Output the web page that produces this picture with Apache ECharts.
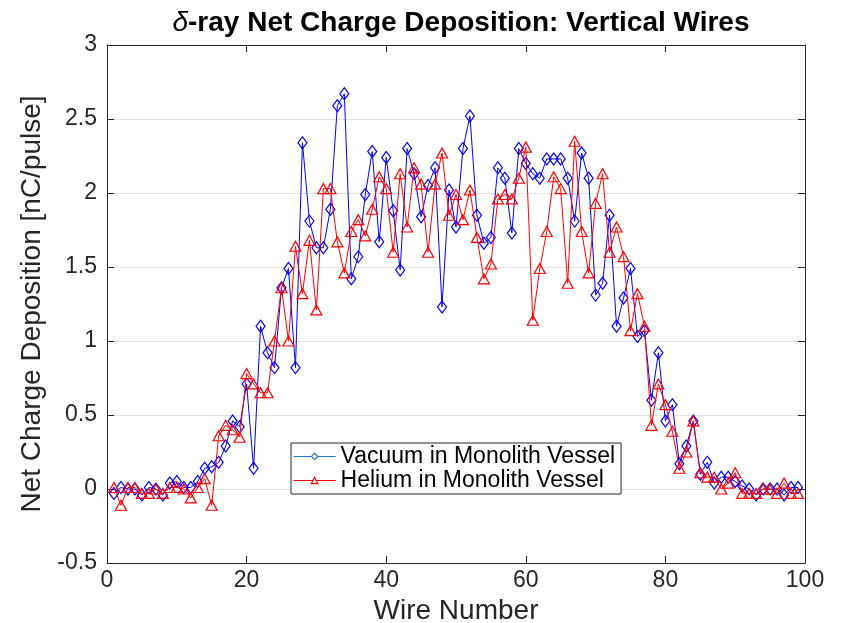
<!DOCTYPE html>
<html>
<head>
<meta charset="utf-8">
<script src="https://cdn.jsdelivr.net/npm/echarts@6/dist/echarts.min.js"></script>
<style>
  html, body { margin: 0; padding: 0; background: #ffffff; overflow: hidden; }
  #chart { width: 841px; height: 623px; }
</style>
</head>
<body>
<div id="chart"></div>
<script>
// Wire numbers along the detector plane
const wires = Array.from({ length: 99 }, (_, i) => i + 1);

// Net charge per wire [nC/pulse], vacuum in the monolith vessel
const vacuumCharge = [
  -0.03, 0.01, 0.00, 0.00, -0.04, 0.01, 0.00, -0.04, 0.04, 0.05,
  0.01, 0.01, 0.05, 0.14, 0.15, 0.18, 0.29, 0.46, 0.42, 0.71,
  0.14, 1.10, 0.92, 0.82, 1.36, 1.49, 0.82, 2.34, 1.81, 1.63,
  1.63, 1.89, 2.59, 2.67, 1.42, 1.57, 1.99, 2.28, 1.67, 2.24,
  1.88, 1.48, 2.30, 2.13, 1.84, 2.05, 2.17, 1.23, 2.02, 1.77,
  2.30, 2.52, 1.85, 1.66, 1.70, 2.17, 2.10, 1.73, 2.30, 2.20,
  2.13, 2.10, 2.23, 2.23, 2.23, 2.10, 1.81, 2.27, 2.10, 1.31,
  1.39, 1.85, 1.10, 1.29, 1.49, 1.03, 1.07, 0.60, 0.92, 0.46,
  0.57, 0.17, 0.29, 0.46, 0.10, 0.18, 0.04, 0.08, 0.08, 0.05,
  0.02, 0.00, -0.04, 0.00, 0.00, 0.00, -0.04, 0.01, 0.01
];

// Net charge per wire [nC/pulse], helium in the monolith vessel
const heliumCharge = [
  0.01, -0.11, 0.01, 0.01, -0.03, -0.03, 0.00, -0.03, 0.01, 0.01,
  0.00, -0.06, 0.01, 0.07, -0.11, 0.36, 0.43, 0.40, 0.35, 0.78,
  0.71, 0.65, 0.65, 1.00, 1.36, 1.00, 1.64, 1.32, 1.68, 1.21,
  2.03, 2.03, 1.67, 1.46, 1.74, 1.82, 1.71, 1.89, 2.11, 2.03,
  1.60, 2.13, 1.77, 2.17, 2.06, 1.60, 2.06, 2.27, 1.85, 1.99,
  1.82, 2.02, 1.70, 1.42, 1.52, 1.96, 1.99, 1.96, 2.10, 2.31,
  1.14, 1.49, 1.74, 2.11, 2.03, 1.39, 2.35, 1.74, 1.46, 1.93,
  2.13, 1.60, 1.77, 1.57, 1.07, 1.32, 1.10, 0.43, 0.71, 0.57,
  0.39, 0.14, 0.25, 0.46, 0.11, 0.08, 0.08, 0.00, 0.04, 0.11,
  -0.03, -0.03, -0.03, 0.00, 0.00, -0.03, 0.04, -0.03, -0.03
];

const seriesNames = ['Vacuum in Monolith Vessel', 'Helium in Monolith Vessel'];

const FONT = '"Liberation Sans", Arial, Helvetica, sans-serif';
const AXIS_COLOR = '#262626';

const xRange = { min: 0, max: 100, interval: 20 };
const yRange = { min: -0.5, max: 3, interval: 0.5 };

function pairs(xs, ys) {
  return xs.map((x, i) => [x, ys[i]]);
}

const boxAxis = (extra) => Object.assign({
  type: 'value',
  axisLine: { show: true, onZero: false, lineStyle: { color: AXIS_COLOR, width: 1 } },
  axisTick: { show: true, inside: true, length: 7, lineStyle: { color: AXIS_COLOR, width: 1 } },
  splitLine: { show: false }
}, extra);

const chart = echarts.init(document.getElementById('chart'), null, {
  renderer: 'canvas', width: 841, height: 623
});

chart.setOption({
  backgroundColor: '#ffffff',
  animation: false,
  title: {
    text: '{i|δ}{b|-ray Net Charge Deposition: Vertical Wires}',
    left: 456,
    textAlign: 'center',
    top: 4,
    textStyle: {
      rich: {
        i: { fontFamily: FONT, fontStyle: 'italic', fontWeight: 'normal', fontSize: 28, color: '#000' },
        b: { fontFamily: FONT, fontWeight: 'bold', fontSize: 28, color: '#000' }
      }
    }
  },
  grid: {
    left: 107, width: 698, top: 45, height: 518,
    containLabel: false,
    outerBoundsMode: 'none'
  },
  xAxis: [
    boxAxis(Object.assign({
      position: 'bottom',
      name: 'Wire Number',
      nameLocation: 'middle',
      nameGap: 29,
      nameTextStyle: { fontFamily: FONT, fontSize: 28, color: '#262626' },
      axisLabel: { fontFamily: FONT, fontSize: 23, color: '#262626', margin: 6 }
    }, xRange)),
    boxAxis(Object.assign({ position: 'top', axisLabel: { show: false } }, xRange))
  ],
  yAxis: [
    boxAxis(Object.assign({
      position: 'left',
      name: 'Net Charge Deposition [nC/pulse]',
      nameLocation: 'middle',
      nameGap: 49,
      nameTextStyle: { fontFamily: FONT, fontSize: 28, color: '#262626' },
      axisLabel: { fontFamily: FONT, fontSize: 23, color: '#262626', margin: 10 },
      splitLine: { show: true, lineStyle: { color: '#e3e3e3', width: 1 } }
    }, yRange)),
    boxAxis(Object.assign({ position: 'right', axisLabel: { show: false } }, yRange))
  ],
  legend: {
    orient: 'vertical',
    left: 291,
    top: 443,
    padding: [2, 6, 2, 2],
    itemGap: 1,
    itemWidth: 42,
    itemHeight: 8,
    backgroundColor: '#ffffff',
    borderColor: '#262626',
    borderWidth: 1,
    borderRadius: 0,
    textStyle: { fontFamily: FONT, fontSize: 23, color: '#000' },
    data: [
      {
        name: seriesNames[0],
        itemStyle: { color: '#ffffff', borderColor: '#1f78c8', borderWidth: 1.2 },
        lineStyle: { color: '#1f78c8', width: 1.2 }
      },
      {
        name: seriesNames[1],
        itemStyle: { color: '#ffffff', borderColor: '#ff0000', borderWidth: 1.2 },
        lineStyle: { color: '#ff0000', width: 1.2 }
      }
    ]
  },
  series: [
    {
      name: seriesNames[0],
      type: 'line',
      xAxisIndex: 0,
      yAxisIndex: 0,
      data: pairs(wires, vacuumCharge),
      symbol: 'diamond',
      symbolSize: [9, 12],
      showAllSymbol: true,
      lineStyle: { color: '#0000ff', width: 1 },
      itemStyle: { color: 'rgba(255,255,255,0)', borderColor: '#0000ff', borderWidth: 1.2 },
      emphasis: { disabled: true },
      z: 2
    },
    {
      name: seriesNames[1],
      type: 'line',
      xAxisIndex: 0,
      yAxisIndex: 0,
      data: pairs(wires, heliumCharge),
      symbol: 'triangle',
      symbolSize: [11, 10],
      showAllSymbol: true,
      lineStyle: { color: '#ff0000', width: 1 },
      itemStyle: { color: 'rgba(255,255,255,0)', borderColor: '#ff0000', borderWidth: 1.2 },
      emphasis: { disabled: true },
      z: 3
    }
  ]
});
</script>
</body>
</html>
